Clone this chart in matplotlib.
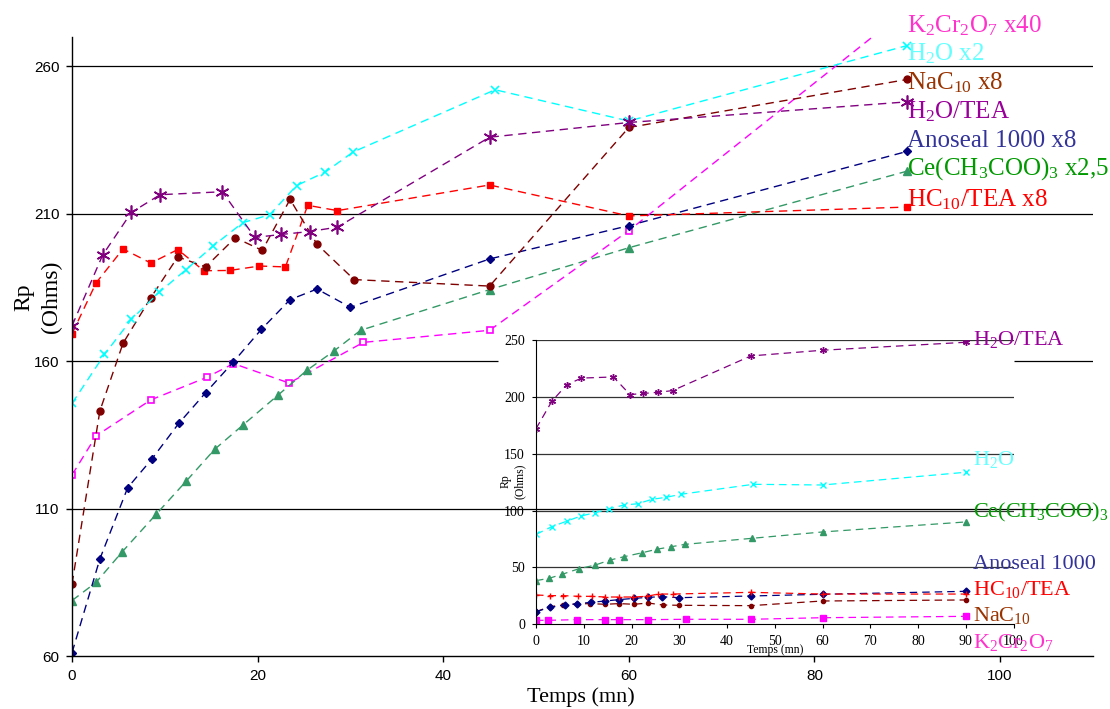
import matplotlib
matplotlib.use("Agg")
import matplotlib.pyplot as plt

plt.rcParams['mathtext.fontset'] = 'custom'
plt.rcParams['mathtext.rm'] = 'Liberation Serif'
plt.rcParams['mathtext.it'] = 'Liberation Serif:italic'
plt.rcParams['mathtext.default'] = 'rm'

# ---------------- main chart data (scaled series) ----------------
t_tea = [0, 3.3, 6.4, 9.5, 16.2, 19.7, 22.5, 25.6, 28.6, 45, 60, 90]
v_tea = [172, 196, 210.5, 216.5, 217.5, 202, 203, 204, 205.5, 236, 241, 248]

t_h2o = [0, 3.5, 6.4, 9.4, 12.3, 15.2, 18.4, 21.3, 24.2, 27.3, 30.3, 45.6, 60, 90]
v_h2o = [145.7, 162.3, 174.2, 183.4, 191.1, 199.1, 207, 209.7, 219.6, 224.2, 231, 252.1, 241.5, 267.1]

t_nac = [0, 3.0, 5.5, 8.5, 11.4, 14.4, 17.6, 20.5, 23.5, 26.4, 30.4, 45, 60, 90]
v_nac = [84.4, 143.1, 166.1, 181.6, 195.4, 192, 201.9, 197.6, 214.9, 199.7, 187.7, 185.5, 239.3, 255.6]

t_hc = [0, 2.6, 5.5, 8.5, 11.4, 14.2, 17.0, 20.2, 23.0, 25.4, 28.6, 45, 60, 90]
v_hc = [169.3, 186.6, 198.1, 193.3, 197.9, 190.7, 190.8, 192.3, 192, 212.9, 211.1, 219.8, 209.3, 212.3]

t_ano = [0, 3.0, 6.0, 8.6, 11.5, 14.4, 17.4, 20.4, 23.5, 26.4, 30.0, 45, 60, 90]
v_ano = [61.1, 92.9, 117.1, 126.8, 138.9, 149.3, 159.8, 170.8, 180.9, 184.5, 178.3, 194.7, 206, 231.2]

t_ce = [0, 2.6, 5.4, 9.1, 12.3, 15.4, 18.4, 22.2, 25.3, 28.2, 31.1, 45, 60, 90]
v_ce = [78.8, 85, 95.3, 108.2, 119.3, 130.2, 138.3, 148.5, 156.9, 163.4, 170.5, 184.3, 198.5, 224.5]

t_k = [0, 2.6, 8.5, 14.5, 17.4, 23.4, 31.4, 45, 60, 90]
v_k = [121.4, 134.7, 146.9, 154.5, 159.2, 152.6, 166.4, 170.5, 204.3, 279.4]

# ---------------- inset data (unscaled) ----------------
ti_h2o = [0, 3.3, 6.5, 9.4, 12.4, 15.2, 18.4, 21.3, 24.3, 27.3, 30.3, 45.5, 60, 90]
vi_h2o = [79.1, 85.8, 90.8, 95.2, 98.2, 101.4, 104.9, 106, 109.9, 111.7, 114.3, 123.1, 122.5, 133.7]

ti_ce = [0, 2.7, 5.5, 9.0, 12.4, 15.5, 18.5, 22.3, 25.3, 28.3, 31.2, 45.2, 60, 90]
vi_ce = [38.4, 40.4, 44, 48.9, 52.1, 56.5, 59.5, 63, 66, 68.2, 70.3, 75.6, 81.2, 90]

ti_hc = [0, 2.9, 5.7, 8.9, 11.7, 14.5, 17.4, 20.4, 23.2, 25.6, 28.6, 45, 60, 90]
vi_hc = [25.8, 25.2, 25.2, 24.6, 24.6, 24, 24, 24, 24.6, 26.6, 26.6, 28.1, 26.6, 26.6]

ti_ano = [0, 2.9, 6.1, 8.6, 11.5, 14.5, 17.4, 20.5, 23.5, 26.3, 30.0, 45, 60, 90]
vi_ano = [11.1, 14.9, 17, 18.1, 19.3, 20.5, 21.7, 22.8, 23.7, 24.3, 23.4, 24.9, 26.4, 29]

ti_nac = [0, 2.9, 5.7, 8.6, 11.3, 14.5, 17.4, 20.5, 23.5, 26.5, 30.0, 45, 60, 90]
vi_nac = [11.1, 15.5, 17, 17.9, 18.2, 17.6, 18.2, 17.6, 18.7, 17, 16.7, 16.4, 20.5, 21.4]

ti_k = [0, 2.6, 8.5, 14.5, 17.4, 23.4, 31.4, 45, 60, 90]
vi_k = [3.5, 3.5, 4.1, 4.1, 4.1, 4.1, 4.4, 4.4, 5.8, 7.0]

main_yticks = [60, 110, 160, 210, 260]
main_xticks = [0, 20, 40, 60, 80, 100]
inset_yticks = [0, 50, 100, 150, 200, 250]
inset_xticks = list(range(0, 101, 10))

# ---------------- styles ----------------
C_TEA = '#800080'
C_H2O = '#00FFFF'
C_NAC = '#800000'
C_HC = '#FF0000'
C_ANO = '#000080'
C_CE = '#339966'
C_K = '#FF00FF'
DASH = (0, (6, 4))
STAR = (6, 2, 0)

W, H = 1110, 709
fig = plt.figure(figsize=(W / 100, H / 100), dpi=100)

def px(x, y):
    return x / W, 1 - y / H

ax = fig.add_axes([72 / W, 1 - 656 / H, (1092.8 - 72) / W, (656 - 37) / H])
ax.set_xlim(0, 110)
ax.set_ylim(60, 270)
for s in ['top', 'right']:
    ax.spines[s].set_visible(False)
for s in ['left', 'bottom']:
    ax.spines[s].set_linewidth(1.0)
ax.set_yticks(main_yticks)
ax.set_xticks(main_xticks)
ax.tick_params(direction='out', length=4, width=1, pad=5, labelsize=11)
for lab in ax.get_xticklabels() + ax.get_yticklabels():
    lab.set_family('Liberation Sans')

# gridlines
for g in [260, 210, 110]:
    ax.axhline(g, color='black', lw=0.9, zorder=0)
ax.hlines(160, 0, 45.9, color='black', lw=0.9, zorder=0)
ax.hlines(160, 101.5, 110, color='black', lw=0.9, zorder=0)

kw = dict(ls=DASH, lw=1.0)
ax.plot(t_k, v_k, color=C_K, marker='s', ms=4.5, mfc='white', mec=C_K, mew=1.2, **kw)
ax.plot(t_ce, v_ce, color=C_CE, marker='^', ms=5.5, mec=C_CE, **kw)
ax.plot(t_ano, v_ano, color=C_ANO, marker='D', ms=4.2, **kw)
ax.plot(t_hc, v_hc, color=C_HC, marker='s', ms=4, **kw)
ax.plot(t_nac, v_nac, color=C_NAC, marker='o', ms=5, **kw)
ax.plot(t_h2o, v_h2o, color=C_H2O, marker='x', ms=5.5, mew=1.2, **kw)
ax.plot(t_tea, v_tea, color=C_TEA, marker=STAR, ms=10, mew=1.2, **kw)

# main labels
serif = 'Liberation Serif'
main_labels = [
    ('K$_2$Cr$_2$O$_7$ x40', '#FF33CC', 32),
    ('H$_2$O x2', '#66FFFF', 60),
    ('NaC$_{10}$ x8', '#993300', 89),
    ('H$_2$O/TEA', '#990099', 118),
    ('Anoseal 1000 x8', '#333399', 147),
    ('Ce(CH$_3$COO)$_3$ x2,5', '#009900', 175),
    ('HC$_{10}$/TEA x8', '#FF0000', 206),
]
for txt, col, yb in main_labels:
    fig.text(*px(907, yb), txt, color=col, fontsize=18, family=serif,
             ha='left', va='baseline')

fig.text(*px(38, 297), 'Rp\n(Ohms)', rotation=90, ha='center', va='center',
         multialignment='center', fontsize=17, family=serif, linespacing=1.4)
fig.text(*px(581, 697), 'Temps (mn)', ha='center', va='center', fontsize=16,
         family=serif)

# ---------------- inset ----------------
ax2 = fig.add_axes([536 / W, 1 - 624.3 / H, (1013.5 - 536) / W, (624.3 - 340) / H])
ax2.set_facecolor('none')
ax2.set_xlim(0, 100)
ax2.set_ylim(0, 250)
for s in ['top', 'right']:
    ax2.spines[s].set_visible(False)
ax2.set_xticks(inset_xticks)
ax2.set_yticks(inset_yticks)
ax2.tick_params(direction='out', length=3, width=0.8, pad=5, labelsize=10)
for lab in ax2.get_xticklabels() + ax2.get_yticklabels():
    lab.set_family(serif)
for g in inset_yticks[1:]:
    ax2.axhline(g, color='#333333', lw=0.9, zorder=0)

kw2 = dict(ls=DASH, lw=0.9)
ax2.plot(ti_k, vi_k, color=C_K, marker='s', ms=5, **kw2)
ax2.plot(ti_nac, vi_nac, color=C_NAC, marker='o', ms=3, **kw2)
ax2.plot(ti_ano, vi_ano, color=C_ANO, marker='D', ms=3.5, **kw2)
ax2.plot(ti_hc, vi_hc, color=C_HC, marker='+', ms=4, **kw2)
ax2.plot(ti_ce, vi_ce, color=C_CE, marker='^', ms=4, **kw2)
ax2.plot(ti_h2o, vi_h2o, color=C_H2O, marker='x', ms=4, **kw2)
ax2.plot(t_tea, v_tea, color=C_TEA, marker=STAR, ms=5, **kw2)

fig.text(*px(513, 481), 'Rp\n(Ohms)', rotation=90, ha='center', va='center',
         multialignment='center', fontsize=8.5, family=serif, linespacing=1.2)
fig.text(*px(775, 650), 'Temps (mn)', ha='center', va='center', fontsize=8.5,
         family=serif)

inset_labels = [
    ('H$_2$O/TEA', '#990099', 345),
    ('H$_2$O', '#66FFFF', 465),
    ('Ce(CH$_3$COO)$_3$', '#009900', 517),
    ('Anoseal 1000', '#333399', 569),
    ('HC$_{10}$/TEA', '#FF0000', 595),
    ('NaC$_{10}$', '#993300', 621),
    ('K$_2$Cr$_2$O$_7$', '#FF33CC', 648),
]
for txt, col, yb in inset_labels:
    fig.text(*px(973, yb), txt, color=col, fontsize=16, family=serif,
             ha='left', va='baseline')

fig.savefig('out.png', dpi=100)
